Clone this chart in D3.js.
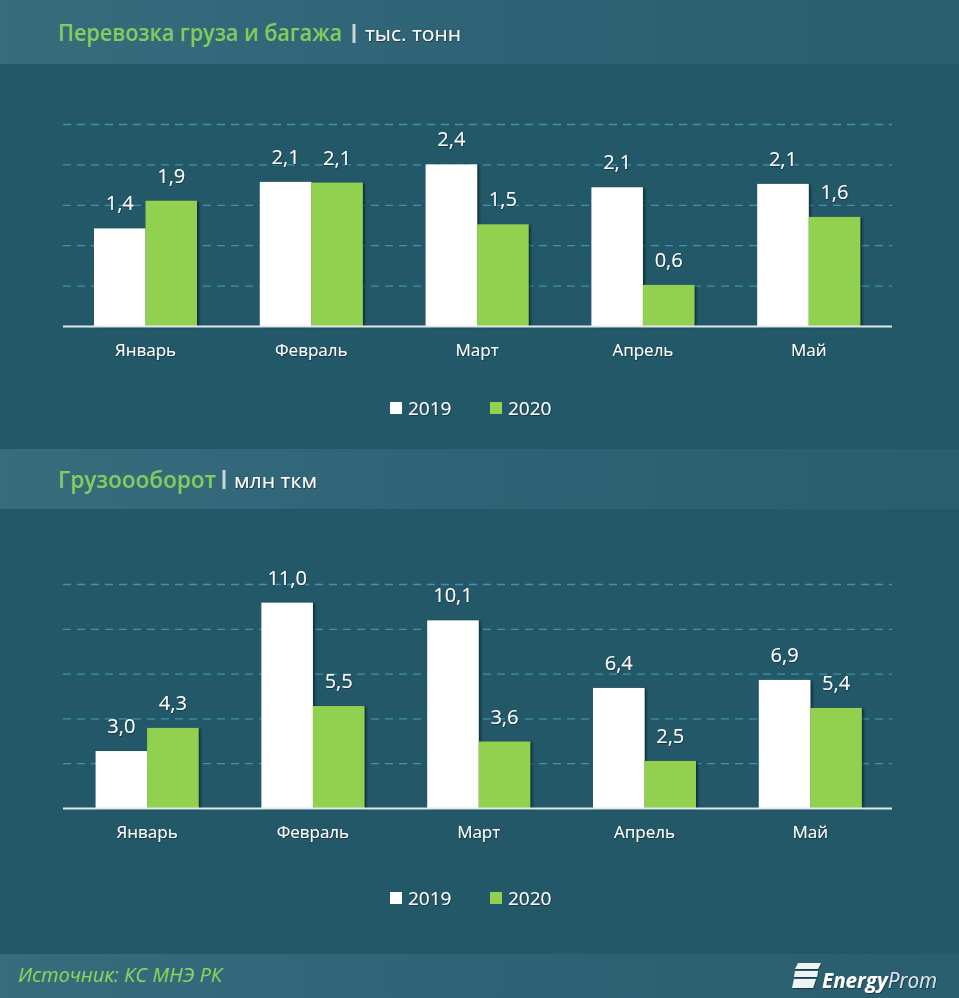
<!DOCTYPE html>
<html>
<head>
<meta charset="utf-8">
<script src="https://cdn.jsdelivr.net/npm/d3@7"></script>
<style>
  html, body { margin: 0; padding: 0; background: #235868; }
  svg { display: block; }
  text { font-family: "Open Sans", "Noto Sans", sans-serif; }
</style>
</head>
<body>
<script>
var months = ["Январь", "Февраль", "Март", "Апрель", "Май"];
var years = ["2019", "2020"];

// перевозка груза и багажа, тыс. тонн
var cargo2019 = [1.449, 2.14, 2.40, 2.06, 2.11];
var cargo2020 = [1.86, 2.13, 1.51, 0.61, 1.62];
var cargoTicks = [0, 0.6, 1.2, 1.8, 2.4, 3.0];

// грузооборот, млн ткм
var turnover2019 = [3.05, 11.0, 10.05, 6.43, 6.86];
var turnover2020 = [4.29, 5.46, 3.56, 2.52, 5.36];
var turnoverTicks = [0, 2.4, 4.8, 7.2, 9.6, 12];

var GREEN = "#92d050";
var svg = d3.select("body").append("svg").attr("width", 959).attr("height", 998);
var defs = svg.append("defs");

var band = defs.append("linearGradient").attr("id", "band");
band.append("stop").attr("offset", "0").attr("stop-color", "#366d7d");
band.append("stop").attr("offset", "0.45").attr("stop-color", "#2f6476");
band.append("stop").attr("offset", "1").attr("stop-color", "#295e6f");

var shadow = defs.append("filter").attr("id", "barShadow")
  .attr("x", "-20%").attr("y", "-20%").attr("width", "140%").attr("height", "140%");
shadow.append("feDropShadow").attr("dx", 2).attr("dy", 1).attr("stdDeviation", 1.2)
  .attr("flood-color", "#06222c").attr("flood-opacity", 0.75);

var textShadow = defs.append("filter").attr("id", "textShadow")
  .attr("x", "-20%").attr("y", "-30%").attr("width", "140%").attr("height", "160%");
textShadow.append("feDropShadow").attr("dx", 0.6).attr("dy", 0.8).attr("stdDeviation", 0.5)
  .attr("flood-color", "#0a2c38").attr("flood-opacity", 0.9);

svg.append("rect").attr("width", 959).attr("height", 998).attr("fill", "#235868");

function header(y, h, title, unit, titleX, unitX) {
  var base = y + 41 - (h == 64 ? 0 : 2);
  svg.append("rect").attr("x", 0).attr("y", y).attr("width", 959).attr("height", h)
    .attr("fill", "url(#band)");
  svg.append("text").attr("x", titleX).attr("y", base)
    .attr("font-size", 23).attr("font-weight", 600).attr("fill", "#84cc5c")
    .attr("textLength", unitX[0] - titleX).attr("lengthAdjust", "spacingAndGlyphs").text(title);
  svg.append("text").attr("x", unitX[1]).attr("y", base)
    .attr("font-size", 20).attr("fill", "#fff").attr("filter", "url(#textShadow)")
    .attr("textLength", unitX[2]).attr("lengthAdjust", "spacingAndGlyphs").text(unit);
}

function chart(opts) {
  var x = d3.scaleBand().domain(months).range([opts.x0, opts.x0 + 829]);
  var y = d3.scaleLinear().domain([0, opts.ticks[opts.ticks.length - 1]]).range([opts.base, opts.top]);
  var sub = d3.scaleBand().domain(years).range([0, 103]);
  var fmt = function (v) { return d3.format(".1f")(v).replace(".", ","); };
  var g = svg.append("g");

  // сетка
  var grid = g.append("g").attr("transform", "translate(63,0)")
    .call(d3.axisLeft(y).tickValues(opts.ticks.slice(1)).tickSize(-829).tickFormat(""));
  grid.select(".domain").remove();
  grid.selectAll("line").attr("stroke", "#3f93aa").attr("stroke-width", 1.3).attr("stroke-dasharray", "8 6");

  var series = [opts.a, opts.b];
  var left = function (j) { return x(months[j]) + x.bandwidth() / 2 - 51.5; };
  years.forEach(function (yr, i) {
    g.selectAll(".bar" + i).data(series[i]).enter().append("rect")
      .attr("x", function (d, j) { return left(j) + sub(yr); })
      .attr("y", function (d) { return y(d); })
      .attr("width", sub.bandwidth())
      .attr("height", function (d) { return opts.base - y(d); })
      .attr("fill", i == 0 ? "#fff" : GREEN)
      .attr("filter", "url(#barShadow)");
  });
  years.forEach(function (yr, i) {
    g.selectAll(".val" + i).data(series[i]).enter().append("text")
      .attr("x", function (d, j) { return left(j) + sub(yr) + sub.bandwidth() / 2; })
      .attr("y", function (d) { return y(d) - 18; })
      .attr("text-anchor", "middle").attr("font-size", 20).attr("fill", "#fff")
      .attr("filter", "url(#textShadow)")
      .text(fmt);
  });

  // ось месяцев
  var axis = g.append("g").attr("transform", "translate(0," + opts.base + ")")
    .call(d3.axisBottom(x).tickSize(0).tickPadding(18));
  axis.select(".domain").attr("stroke", "#dfe8ea").attr("stroke-width", 2)
    .attr("d", "M" + 63 + ",0.5H892");
  axis.selectAll("text").attr("font-size", 17).attr("fill", "#fff")
    .attr("font-family", "\"Open Sans\", sans-serif").attr("filter", "url(#textShadow)");

  // легенда
  var legend = g.append("g").selectAll("g").data(years).enter().append("g")
    .attr("transform", function (d, i) { return "translate(" + (390 + i * 100) + "," + opts.legendY + ")"; });
  legend.append("rect").attr("x", 0).attr("y", -6).attr("width", 12).attr("height", 12)
    .attr("fill", function (d, i) { return i == 0 ? "#fff" : GREEN; });
  legend.append("text").attr("x", 18).attr("y", 6.5).attr("font-size", 19).attr("fill", "#fff")
    .attr("filter", "url(#textShadow)").text(function (d) { return d; });
}

header(0, 64, "Перевозка груза и багажа", "тыс. тонн", 58, [342, 365, 96]);
header(449, 60, "Грузоооборот", "млн ткм", 58, [216, 234, 83]);

// разделители в заголовках
[[354, 24, 43], [224, 470, 489]].forEach(function (d) {
  svg.append("line").attr("x1", d[0]).attr("x2", d[0]).attr("y1", d[1]).attr("y2", d[2])
    .attr("stroke", "#c9d6d8").attr("stroke-width", 3);
});

chart({ a: cargo2019, b: cargo2020, ticks: cargoTicks, base: 326, top: 124, x0: 62.6, legendY: 408 });
chart({ a: turnover2019, b: turnover2020, ticks: turnoverTicks, base: 808, top: 584, x0: 64.2, legendY: 898 });

// подвал
svg.append("rect").attr("x", 0).attr("y", 954).attr("width", 959).attr("height", 44).attr("fill", "url(#band)");
svg.append("text").attr("x", 18).attr("y", 982).attr("font-size", 20).attr("font-style", "italic")
  .attr("fill", "#8fd45c").attr("textLength", 204).attr("lengthAdjust", "spacingAndGlyphs")
  .text("Источник: КС МНЭ РК");

// логотип
var logo = svg.append("g").attr("fill", "#eef4f4").attr("filter", "url(#textShadow)");
["M798,963 L821,963 L818,969 L795,969 Z", "M795,971 L818,971 L817,977 L794,977 Z", "M794,979 L816,979 L813,988 L792,988 Z"]
  .forEach(function (p) { logo.append("path").attr("d", p); });
var brand = svg.append("text").attr("x", 822).attr("y", 988).attr("font-size", 22)
  .attr("font-style", "italic").attr("fill", "#fff").attr("textLength", 115)
  .attr("lengthAdjust", "spacingAndGlyphs").attr("filter", "url(#textShadow)");
brand.append("tspan").attr("font-weight", 700).text("Energy");
brand.append("tspan").attr("fill", "#dbe6e8").text("Prom");
</script>
</body>
</html>
